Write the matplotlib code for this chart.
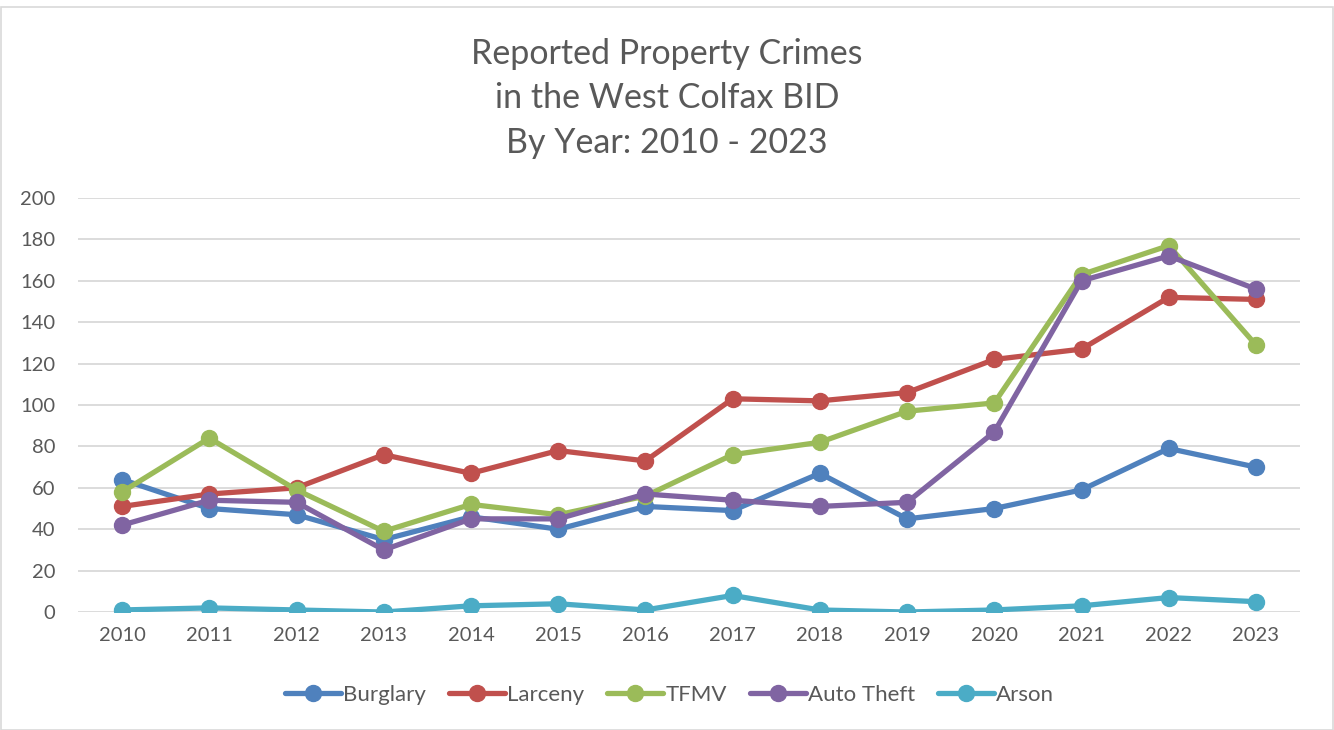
import matplotlib.pyplot as plt
from matplotlib.patches import Rectangle

years = [str(y) for y in range(2010, 2024)]
burglary = [64, 50, 47, 35, 46, 40, 51, 49, 67, 45, 50, 59, 79, 70]
larceny = [51, 57, 60, 76, 67, 78, 73, 103, 102, 106, 122, 127, 152, 151]
tfmv = [58, 84, 59, 39, 52, 47, 56, 76, 82, 97, 101, 163, 177, 129]
auto_theft = [42, 54, 53, 30, 45, 45, 57, 54, 51, 53, 87, 160, 172, 156]
arson = [1, 2, 1, 0, 3, 4, 1, 8, 1, 0, 1, 3, 7, 5]

names = ["Burglary", "Larceny", "TFMV", "Auto Theft", "Arson"]
series = [burglary, larceny, tfmv, auto_theft, arson]
colors = ["#4F81BD", "#C0504D", "#9BBB59", "#8064A2", "#4BACC6"]

plt.rcParams['font.family'] = ['Lato', 'DejaVu Sans']
text_col = "#595959"

fig = plt.figure(figsize=(13.34, 7.3), dpi=100)
ax = fig.add_axes([0.0588, 0.1616, 0.9154, 0.5672])

x = list(range(len(years)))
for name, vals, c in zip(names, series, colors):
    ax.plot(x, vals, color=c, lw=3.8, marker='o', markersize=11.5,
            label=name, solid_capstyle='round')

ax.set_xlim(-0.5, len(years) - 0.5)
ax.set_ylim(0, 200)
ax.set_yticks(range(0, 201, 20))
ax.set_xticks(x)
ax.set_xticklabels(years)
ax.grid(axis='y', color='#D9D9D9', lw=1.3)
ax.set_axisbelow(True)
for s in ax.spines.values():
    s.set_visible(False)
ax.tick_params(length=0, labelsize=14.5, colors=text_col, pad=11)
ax.tick_params(axis='y', pad=16.5)

fig.text(0.5, 0.926, "Reported Property Crimes", ha='center', va='center',
         fontsize=24.5, color=text_col)
fig.text(0.5, 0.866, "in the West Colfax BID", ha='center', va='center',
         fontsize=24.5, color=text_col)
fig.text(0.5, 0.804, "By Year: 2010 - 2023", ha='center', va='center',
         fontsize=24.5, color=text_col)

leg = fig.legend(loc='center', bbox_to_anchor=(0.502, 0.048), ncol=5,
                 frameon=False, fontsize=16, handlelength=2.5,
                 columnspacing=1.05, handletextpad=0.1)
for t in leg.get_texts():
    t.set_color(text_col)

fig.patches.append(Rectangle((0.001, 0.0), 0.998, 0.99, transform=fig.transFigure,
                             fill=False, edgecolor='#D9D9D9', lw=1.2))

fig.savefig("out.png", dpi=100)
